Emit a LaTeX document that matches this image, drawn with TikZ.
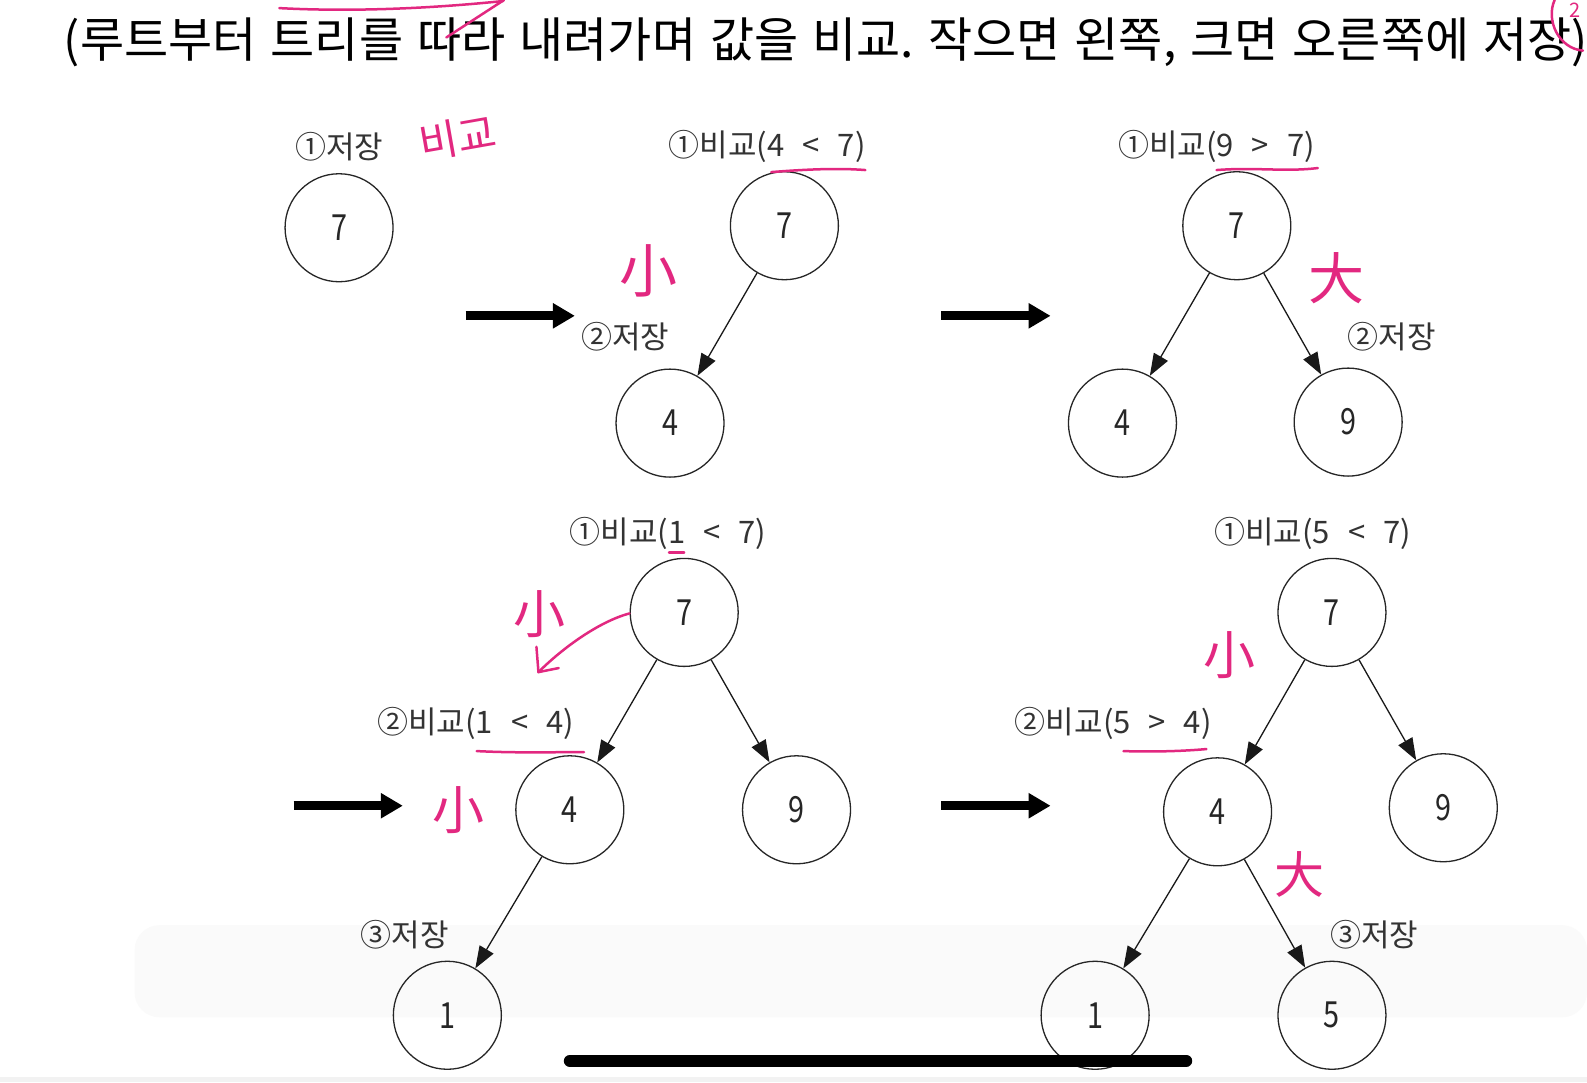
\documentclass[tikz,border=0pt]{standalone}
\usepackage{fontspec}
\setmainfont{Noto Sans CJK KR}
\newfontfamily\kr{Noto Sans CJK KR}
\newfontfamily\hw{Noto Sans CJK KR}
\newfontfamily\lab[WordSpace=2.6]{Noto Sans CJK KR}
\newfontfamily\num[FakeStretch=0.8]{Noto Sans CJK KR}
\newcommand\tgap{\hspace*{14pt}}
\usetikzlibrary{arrows.meta}
\definecolor{pen}{RGB}{226,40,128}
\tikzset{
  nd/.style={circle, draw=black!85, line width=1.3pt, minimum size=108pt, inner sep=0pt,
    font=\num\fontsize{36}{40}\selectfont, text=black!85},
  lbl/.style={font=\lab\fontsize{31}{34}\selectfont, text=black!80, inner sep=0pt},
  edge/.style={draw=black!90, line width=1.3pt, -{Triangle[length=22pt,width=16pt]}},
  bigarrow/.style={line width=9pt, -{Triangle[length=22pt,width=24pt]}},
  hand/.style={text=pen, inner sep=0pt},
  penline/.style={draw=pen, line width=2.5pt, line cap=round, line join=round},
}
\begin{document}
\begin{tikzpicture}[x=1.0121pt, y=-1.0122pt]
\useasboundingbox (0,0) rectangle (1568,1069);
\fill[white] (0,0) rectangle (1568,1069);
% faint overlay bar and bottom strip
\fill[black!2, rounded corners=25pt] (133,914) rectangle (1568,1005);
\fill[black!5] (0,1064) rectangle (1568,1069);

% title
\node[anchor=west, inner sep=0pt, font=\kr\fontsize{48}{52}\selectfont] (title) at (63,42)
  {(루트부터\tgap 트리를\tgap 따라\tgap 내려가며\tgap 값을\tgap 비교.\tgap 작으면\tgap 왼쪽,\tgap 크면\tgap 오른쪽에\tgap 저장)};

% ---------- panel 1
\node[lbl] (l1a) at (335,145) {①저장};
\node[nd] (p1a) at (335,225) {7};

% ---------- panel 2
\coordinate (b2s) at (460,312); \coordinate (b2e) at (568,312);
\draw[bigarrow] (b2s) -- (b2e);
\node[lbl] (l2a) at (758,145) {①비교(4 < 7)};
\node[lbl] (l2b) at (618,333) {②저장};
\node[nd] (p2a) at (775,223) {7};
\node[nd] (p2b) at (662,418) {4};
\draw[edge] (p2a) -- (p2b);

% ---------- panel 3
\coordinate (b3s) at (930,312); \coordinate (b3e) at (1038,312);
\draw[bigarrow] (b3s) -- (b3e);
\node[lbl] (l3a) at (1202,145) {①비교(9 > 7)};
\node[lbl] (l3b) at (1375,333) {②저장};
\node[nd] (p3a) at (1222,223) {7};
\node[nd] (p3b) at (1109,418) {4};
\node[nd] (p3c) at (1332,417) {9};
\draw[edge] (p3a) -- (p3b);
\draw[edge] (p3a) -- (p3c);

% ---------- panel 4
\coordinate (b4s) at (290,796); \coordinate (b4e) at (398,796);
\draw[bigarrow] (b4s) -- (b4e);
\node[lbl] (l4a) at (660,527) {①비교(1 < 7)};
\node[lbl] (l4b) at (470,715) {②비교(1 < 4)};
\node[lbl] (l4c) at (400,923) {③저장};
\node[nd] (p4a) at (676,605) {7};
\node[nd] (p4b) at (563,800) {4};
\node[nd] (p4c) at (787,800) {9};
\node[nd] (p4d) at (442,1003) {1};
\draw[edge] (p4a) -- (p4b);
\draw[edge] (p4a) -- (p4c);
\draw[edge] (p4b) -- (p4d);

% ---------- panel 5
\coordinate (b5s) at (930,796); \coordinate (b5e) at (1038,796);
\draw[bigarrow] (b5s) -- (b5e);
\node[lbl] (l5a) at (1297,527) {①비교(5 < 7)};
\node[lbl] (l5b) at (1100,715) {②비교(5 > 4)};
\node[lbl] (l5c) at (1358,923) {③저장};
\node[nd] (p5a) at (1316,605) {7};
\node[nd] (p5b) at (1203,802) {4};
\node[nd] (p5c) at (1426,798) {9};
\node[nd] (p5d) at (1082,1003) {1};
\node[nd] (p5e) at (1316,1003) {5};
\draw[edge] (p5a) -- (p5b);
\draw[edge] (p5a) -- (p5c);
\draw[edge] (p5b) -- (p5d);
\draw[edge] (p5b) -- (p5e);

% ---------- pink handwriting
\draw[penline] (276,8) .. controls (350,12) and (430,8) .. (497,1);
\draw[penline] (441,37) -- (498,0);
\draw[penline] (1536,0) .. controls (1527,20) and (1540,48) .. (1564,50);
\node[hand, font=\hw\fontsize{20}{22}\selectfont] (two) at (1556,10) {2};
\node[hand, rotate=10, font=\hw\fontsize{42}{44}\selectfont] (h1) at (452,136) {비교};
\node[hand, font=\hw\fontsize{58}{60}\selectfont] (h2) at (641,268) {小};
\node[hand, font=\hw\fontsize{56}{58}\selectfont] (h3) at (1320,275) {大};
\node[hand, font=\hw\fontsize{52}{54}\selectfont] (h4) at (533,607) {小};
\node[hand, font=\hw\fontsize{52}{54}\selectfont] (h5) at (453,800) {小};
\node[hand, font=\hw\fontsize{52}{54}\selectfont] (h6) at (1215,647) {小};
\node[hand, font=\hw\fontsize{50}{52}\selectfont] (h7) at (1284,864) {大};
\draw[penline] (762,170) .. controls (800,167) and (830,166) .. (855,168);
\draw[penline] (1202,168) .. controls (1240,165) and (1270,170) .. (1302,166);
\draw[penline] (661,546) -- (676,546);
\draw[penline] (471,742) .. controls (510,744) and (545,743) .. (577,743);
\draw[penline] (1110,742) .. controls (1140,743) and (1170,742) .. (1192,740);
\draw[penline] (622,606) .. controls (592,614) and (556,640) .. (532,664);
\draw[penline] (530,639) -- (532,664) -- (552,660);

% home indicator
\draw[line width=12pt, line cap=round] (563,1048) -- (1172,1048);
\end{tikzpicture}
\end{document}
